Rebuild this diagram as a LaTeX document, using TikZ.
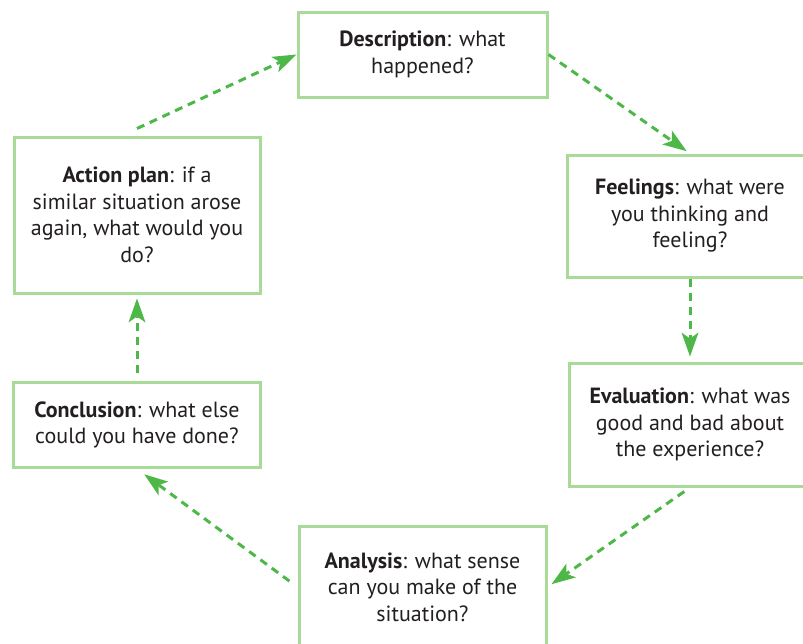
\documentclass[tikz,border=0pt]{standalone}
\usepackage{fontspec}
\setmainfont{PT Sans}
\usepackage{xcolor}
\usetikzlibrary{arrows.meta}
\definecolor{boxgreen}{HTML}{A8DB98}
\definecolor{arrowgreen}{HTML}{4DB848}
\definecolor{textgray}{HTML}{231F20}
\tikzset{x=1pt, y=-1pt,
         stage/.style={draw=boxgreen, line width=3pt, align=center,
                       text=textgray, font=\fontsize{22}{26.5}\selectfont,
                       inner sep=0pt},
         flow/.style={-{Stealth[length=24pt, width=17pt, inset=6pt, line width=0pt]},
                      draw=arrowgreen, line width=3pt,
                      dash pattern=on 8pt off 6pt},
         }

\begin{document}
\begin{tikzpicture}
    \useasboundingbox (0,0) rectangle (803,643);
    \node[stage, minimum width=246pt, minimum height=156pt] (act) at (137,215)
        {\textbf{Action plan}: if a\\similar situation arose\\again, what would you\\do?};
    \node[stage, minimum width=247pt, minimum height=85pt, below of=act, node distance=210pt] (conc)
        {\textbf{Conclusion}: what else\\could you have done?};
    \node[stage, minimum width=249pt, minimum height=85pt] (desc) at (422.5,54.5)
        {\textbf{Description}: what\\happened?};
    \node[stage, minimum width=247pt, minimum height=122pt, below of=desc, node distance=532.5pt] (anal)
        {\textbf{Analysis}: what sense\\can you make of the\\situation?};
    \node[stage, minimum width=246pt, minimum height=122pt] (feel) at (690,216)
        {\textbf{Feelings}: what were\\you thinking and\\feeling?};
    \node[stage, minimum width=242pt, minimum height=123pt, below of=feel, node distance=208.5pt] (eval)
        {\textbf{Evaluation}: what was\\good and bad about\\the experience?};

    % the reflective cycle
    \draw[flow] ([yshift=7pt]act.north) -- (desc.west);
    \draw[flow, shorten >=4pt] (desc.east) -- (feel.north);
    \draw[flow, shorten >=5pt] (feel.south) -- (eval.north);
    \draw[flow, shorten <=7pt, shorten >=5pt] (eval.south) -- (anal.east);
    \draw[flow, shorten <=10pt, shorten >=9pt] (anal.west) -- (conc.south);
    \draw[flow, shorten <=8pt, shorten >=4pt] (conc.north) -- (act.south);
\end{tikzpicture}
\end{document}
